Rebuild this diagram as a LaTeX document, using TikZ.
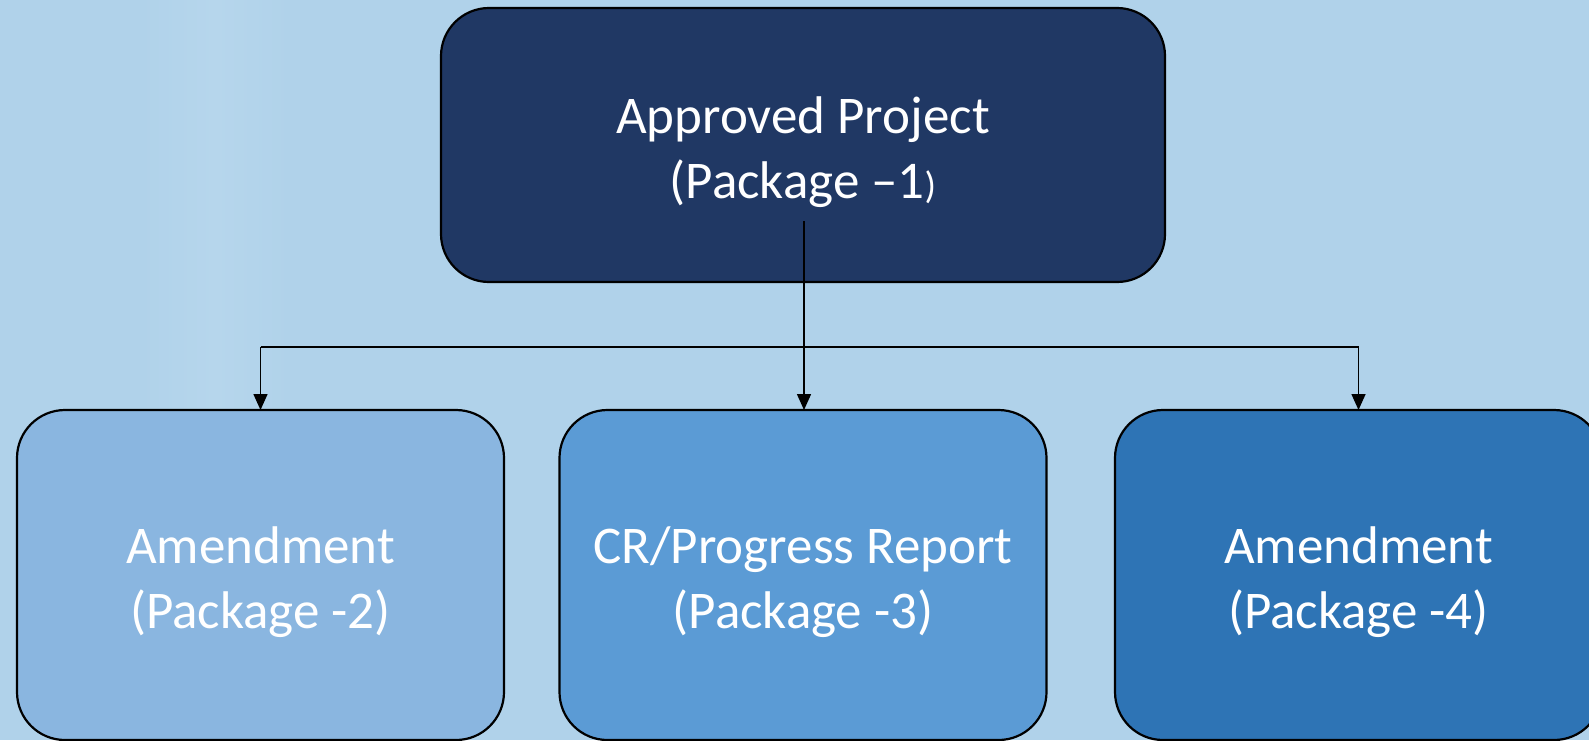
\documentclass[tikz,border=0pt]{standalone}
\usepackage{fontspec}
\setmainfont{Carlito}
\usetikzlibrary{arrows.meta,calc}
\definecolor{bg}{HTML}{B0D2EA}
\definecolor{bglight}{HTML}{B6D6EC}
\definecolor{navy}{HTML}{203864}
\definecolor{paleblue}{HTML}{8AB6E0}
\definecolor{midblue}{HTML}{5B9BD5}
\definecolor{deepblue}{HTML}{2E74B5}
\begin{document}
\begin{tikzpicture}[x=1pt,y=-1pt,
  box/.style={draw=black,line width=2.2pt,rounded corners=48pt,inner sep=0pt,outer sep=0pt,
    text=white,align=center,font=\fontsize{53}{65}\selectfont,text height=119pt,text depth=13pt},
  topbox/.style={box,minimum width=724pt,minimum height=274pt},
  lowbox/.style={box,minimum width=487pt,minimum height=330pt},
  link/.style={draw=black,line width=1.5pt},
  arrowlink/.style={link,-{Triangle[width=14pt,length=16pt]}}]
\clip (0,0) rectangle (1589,740);
\useasboundingbox (0,0) rectangle (1589,740);
\fill[bg] (0,0) rectangle (1589,740);
\shade[left color=bg,right color=bglight] (140,0) rectangle (215,740);
\shade[left color=bglight,right color=bg] (215,0) rectangle (290,740);
\node[topbox,fill=navy] (top) at (803,145)
  {Approved Project\\(Package –1{\fontsize{38}{38}\selectfont)}};
\node[lowbox,fill=paleblue] (left) at (260.5,575) {Amendment\\(Package -2)};
\node[lowbox,fill=midblue] (mid) at (803,575) {CR/Progress Report\\(Package -3)};
\node[lowbox,fill=deepblue] (right) at (1358.5,575) {Amendment\\(Package -4)};
\coordinate (src) at ($(top.south)+(1,-61)$);
\coordinate (bus) at (0,347);
\draw[link] (left.north |- bus) -- (right.north |- bus);
\draw[arrowlink] (left.north |- bus) -- (left.north);
\draw[arrowlink] (right.north |- bus) -- (right.north);
\draw[arrowlink] (src) -- (src |- mid.north);
\end{tikzpicture}
\end{document}
